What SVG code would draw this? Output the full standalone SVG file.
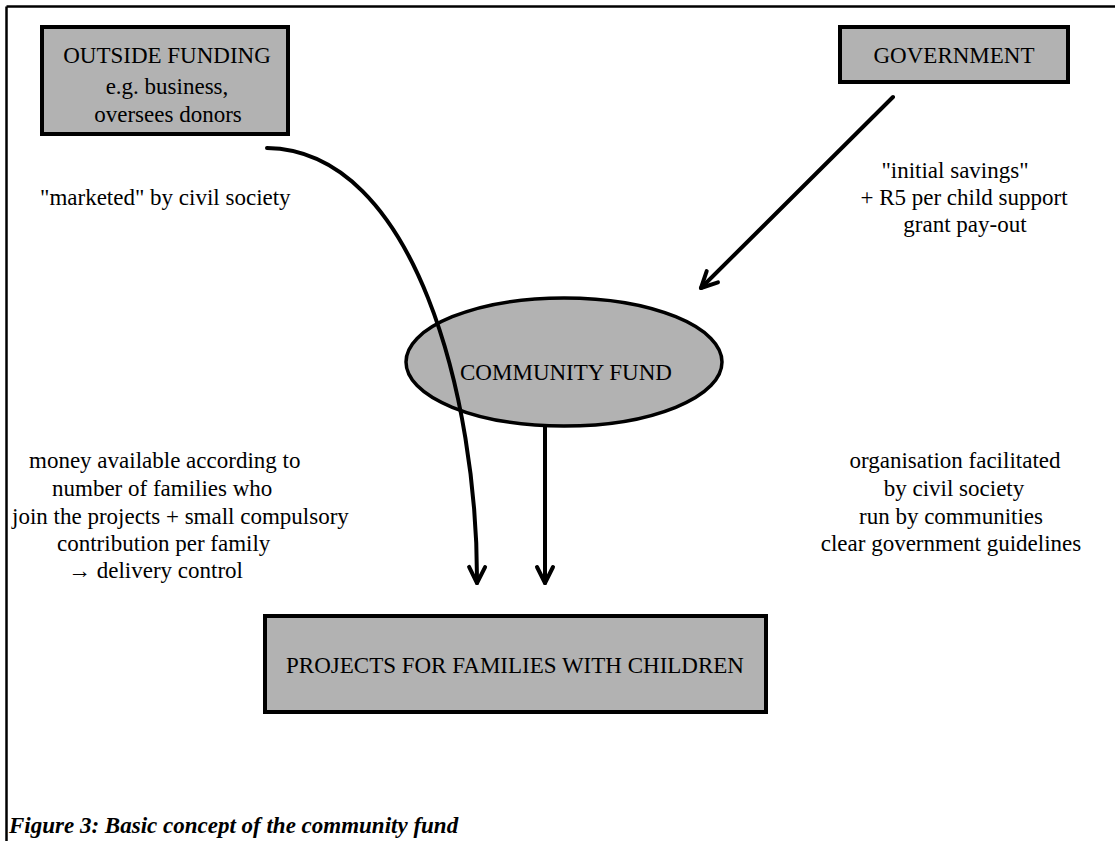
<svg xmlns="http://www.w3.org/2000/svg" width="1115" height="841" viewBox="0 0 1115 841">
<style>
  .t { font-family: "Liberation Serif", "Times New Roman", serif; font-size: 23px; fill: #000; }
  .box { fill: #b2b2b2; stroke: #000; stroke-width: 4; }
  .conn { fill: none; stroke: #000; stroke-width: 4; stroke-linecap: round; }
  .cap { font-family: "Liberation Serif", "Times New Roman", serif; font-size: 23px; font-weight: bold; font-style: italic; fill: #000; }
</style>
<defs>
  <marker id="arr" markerUnits="userSpaceOnUse" markerWidth="30" markerHeight="30" refX="0" refY="0" orient="auto" viewBox="-20 -15 30 30" overflow="visible">
    <path d="M-16,-8 L0,0 L-16,8" fill="none" stroke="#000" stroke-width="4" stroke-linecap="round" stroke-linejoin="round"/>
  </marker>
</defs>
<rect width="1115" height="841" fill="#fff"/>
<g id="frame">
  <line x1="6.5" y1="6.5" x2="1115" y2="6.5" stroke="#000" stroke-width="2.5"/>
  <line x1="6.5" y1="6.5" x2="6.5" y2="841" stroke="#000" stroke-width="2.5"/>
</g>
<g id="outside-funding">
  <rect class="box" x="42" y="27" width="246" height="107"/>
  <text class="t" x="167" y="63" text-anchor="middle">OUTSIDE FUNDING</text>
  <text class="t" x="167" y="94" text-anchor="middle">e.g. business,</text>
  <text class="t" x="168" y="122" text-anchor="middle">oversees donors</text>
</g>
<g id="government">
  <rect class="box" x="840" y="27" width="228" height="55"/>
  <text class="t" x="954" y="63" text-anchor="middle">GOVERNMENT</text>
</g>
<g id="community-fund">
  <ellipse cx="564" cy="362" rx="158" ry="64" fill="#b2b2b2" stroke="#000" stroke-width="3.5"/>
  <text class="t" x="566" y="380" text-anchor="middle">COMMUNITY FUND</text>
</g>
<g id="projects">
  <rect class="box" x="265" y="616" width="501" height="96"/>
  <text class="t" x="515" y="673" text-anchor="middle">PROJECTS FOR FAMILIES WITH CHILDREN</text>
</g>
<g id="connectors">
  <path class="conn" d="M267,148 C415,150 478,400 477,583" marker-end="url(#arr)"/>
  <path class="conn" d="M893,97 L701,288" marker-end="url(#arr)"/>
  <path class="conn" d="M545,427 L545,583" marker-end="url(#arr)"/>
</g>
<g id="labels">
  <text class="t" x="40" y="205">"marketed" by civil society</text>
  <text class="t" x="955" y="178" text-anchor="middle">"initial savings"</text>
  <text class="t" x="964" y="205" text-anchor="middle">+ R5 per child support</text>
  <text class="t" x="965" y="232" text-anchor="middle">grant pay-out</text>
  <text class="t" x="29" y="468">money available according to</text>
  <text class="t" x="52" y="496">number of families who</text>
  <text class="t" x="12" y="524">join the projects + small compulsory</text>
  <text class="t" x="57" y="551">contribution per family</text>
  <text class="t" x="68" y="578">→ delivery control</text>
  <text class="t" x="955" y="468" text-anchor="middle">organisation facilitated</text>
  <text class="t" x="954" y="496" text-anchor="middle">by civil society</text>
  <text class="t" x="951" y="524" text-anchor="middle">run by communities</text>
  <text class="t" x="951" y="551" text-anchor="middle">clear government guidelines</text>
</g>
<text class="cap" x="9" y="833">Figure 3: Basic concept of the community fund</text>
</svg>
